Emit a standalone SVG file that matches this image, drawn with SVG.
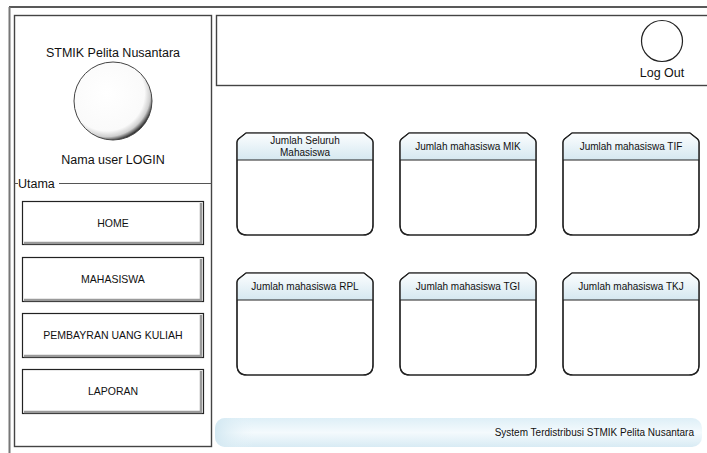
<svg xmlns="http://www.w3.org/2000/svg" width="707" height="453" viewBox="0 0 707 453">
<style>
text{font-family:"Liberation Sans",Arial,sans-serif;fill:#111}
.t13{font-size:12.5px}
.btn{font-size:10.5px}
.hd{font-size:10px}
.panel{fill:#fff;stroke:#444;stroke-width:1.4}
.card{fill:#fff;stroke:#222;stroke-width:1.2}
.btnbox{fill:#fff;stroke:#222;stroke-width:1.2}
.shade{fill:none;stroke:#9a9a9a;stroke-width:2.5}
</style>
<defs>
<radialGradient id="glass" cx="0.42" cy="0.4" r="0.62">
<stop offset="0" stop-color="#ffffff"/>
<stop offset="0.78" stop-color="#fafafa"/>
<stop offset="0.9" stop-color="#cfcfcf"/>
<stop offset="1" stop-color="#2a2a2a"/>
</radialGradient>
<linearGradient id="hdr" x1="0" y1="0" x2="0" y2="1">
<stop offset="0" stop-color="#fbfdfe"/>
<stop offset="1" stop-color="#d5e8f1"/>
</linearGradient>
<linearGradient id="foot" x1="0" y1="0" x2="0" y2="1">
<stop offset="0" stop-color="#deeff7"/>
<stop offset="0.5" stop-color="#f4fafd"/>
<stop offset="1" stop-color="#d8ebf4"/>
</linearGradient>
<linearGradient id="footL" x1="0" y1="0" x2="1" y2="0">
<stop offset="0" stop-color="#d3e8f2" stop-opacity="1"/>
<stop offset="0.08" stop-color="#e8f4f9" stop-opacity="0"/>
</linearGradient>
<symbol id="cardshape" overflow="visible">
<path d="M9,0 H127 L134.5,6 Q136,7.5 136,9.5 V92 Q136,102 126,102 H10 Q0,102 0,92 V9.5 Q0,7.5 1.5,6 L9,0 Z"/>
</symbol>
<symbol id="cardhead" overflow="visible">
<path d="M9,0.6 H127 L134,6.3 Q135.4,7.6 135.4,9.5 V27 H0.6 V9.5 Q0.6,7.6 2,6.3 L9,0.6 Z"/>
</symbol>
</defs>
<rect width="707" height="453" fill="#fff"/>
<!-- outer frame -->
<g id="frame">
<line x1="9" y1="7" x2="707" y2="7" stroke="#222" stroke-width="1.4"/>
<line x1="9.5" y1="7" x2="9.5" y2="453" stroke="#777" stroke-width="2"/>
</g>
<!-- left panel -->
<g id="sidebar">
<rect class="panel" x="14.5" y="15.5" width="197" height="431"/>
<text class="t13" x="113" y="57" text-anchor="middle">STMIK Pelita Nusantara</text>
<circle cx="113" cy="101" r="39" fill="url(#glass)" stroke="#444" stroke-width="1"/>
<text class="t13" x="113" y="164" text-anchor="middle">Nama user LOGIN</text>
<line x1="14.5" y1="183.5" x2="211.5" y2="183.5" stroke="#555" stroke-width="1"/>
<rect x="18" y="176" width="41" height="14" fill="#fff"/>
<text x="18" y="188" style="font-size:12.5px">Utama</text>
</g>
<g id="btn-home">
<rect class="btnbox" x="22.5" y="201.5" width="181" height="43"/>
<path class="shade" d="M201,203 V243 H24"/>
<text class="btn" x="113" y="227" text-anchor="middle">HOME</text>
</g>
<g id="btn-mahasiswa">
<rect class="btnbox" x="22.5" y="257.5" width="181" height="44"/>
<path class="shade" d="M201,259 V300 H24"/>
<text class="btn" x="113" y="283" text-anchor="middle">MAHASISWA</text>
</g>
<g id="btn-pembayaran">
<rect class="btnbox" x="22.5" y="313.5" width="181" height="44"/>
<path class="shade" d="M201,315 V356 H24"/>
<text class="btn" x="113" y="339" text-anchor="middle">PEMBAYRAN UANG KULIAH</text>
</g>
<g id="btn-laporan">
<rect class="btnbox" x="22.5" y="369.5" width="181" height="44"/>
<path class="shade" d="M201,371 V412 H24"/>
<text class="btn" x="113" y="395" text-anchor="middle">LAPORAN</text>
</g>
<!-- header -->
<g id="header">
<rect class="panel" x="216.5" y="15.5" width="500" height="70"/>
<circle cx="662" cy="41" r="20.5" fill="#fff" stroke="#222" stroke-width="1.2"/>
<text class="t13" x="662" y="77" text-anchor="middle">Log Out</text>
</g>
<!-- cards -->
<g id="card-seluruh" transform="translate(237,133)">
<use href="#cardshape" class="card"/>
<use href="#cardhead" fill="url(#hdr)"/>
<use href="#cardshape" fill="none" stroke="#222" stroke-width="1.2"/>
<line x1="0" y1="27" x2="136" y2="27" stroke="#222" stroke-width="1"/>
<text class="hd" x="68" y="11" text-anchor="middle">Jumlah Seluruh</text>
<text class="hd" x="68" y="23" text-anchor="middle">Mahasiswa</text>
</g>
<g id="card-mik" transform="translate(400,133)">
<use href="#cardshape" class="card"/>
<use href="#cardhead" fill="url(#hdr)"/>
<use href="#cardshape" fill="none" stroke="#222" stroke-width="1.2"/>
<line x1="0" y1="27" x2="136" y2="27" stroke="#222" stroke-width="1"/>
<text class="hd" x="68" y="17" text-anchor="middle">Jumlah mahasiswa MIK</text>
</g>
<g id="card-tif" transform="translate(563,133)">
<use href="#cardshape" class="card"/>
<use href="#cardhead" fill="url(#hdr)"/>
<use href="#cardshape" fill="none" stroke="#222" stroke-width="1.2"/>
<line x1="0" y1="27" x2="136" y2="27" stroke="#222" stroke-width="1"/>
<text class="hd" x="68" y="17" text-anchor="middle">Jumlah mahasiswa TIF</text>
</g>
<g id="card-rpl" transform="translate(237,273)">
<use href="#cardshape" class="card"/>
<use href="#cardhead" fill="url(#hdr)"/>
<use href="#cardshape" fill="none" stroke="#222" stroke-width="1.2"/>
<line x1="0" y1="27" x2="136" y2="27" stroke="#222" stroke-width="1"/>
<text class="hd" x="68" y="17" text-anchor="middle">Jumlah mahasiswa RPL</text>
</g>
<g id="card-tgi" transform="translate(400,273)">
<use href="#cardshape" class="card"/>
<use href="#cardhead" fill="url(#hdr)"/>
<use href="#cardshape" fill="none" stroke="#222" stroke-width="1.2"/>
<line x1="0" y1="27" x2="136" y2="27" stroke="#222" stroke-width="1"/>
<text class="hd" x="68" y="17" text-anchor="middle">Jumlah mahasiswa TGI</text>
</g>
<g id="card-tkj" transform="translate(563,273)">
<use href="#cardshape" class="card"/>
<use href="#cardhead" fill="url(#hdr)"/>
<use href="#cardshape" fill="none" stroke="#222" stroke-width="1.2"/>
<line x1="0" y1="27" x2="136" y2="27" stroke="#222" stroke-width="1"/>
<text class="hd" x="68" y="17" text-anchor="middle">Jumlah mahasiswa TKJ</text>
</g>
<!-- footer -->
<g id="footer">
<rect x="215" y="418" width="487" height="29" rx="10" fill="url(#foot)"/>
<rect x="215" y="418" width="487" height="29" rx="10" fill="url(#footL)"/>
<text class="hd" x="694" y="436" text-anchor="end">System Terdistribusi STMIK Pelita Nusantara</text>
</g>
<g id="connectors"></g>
</svg>
